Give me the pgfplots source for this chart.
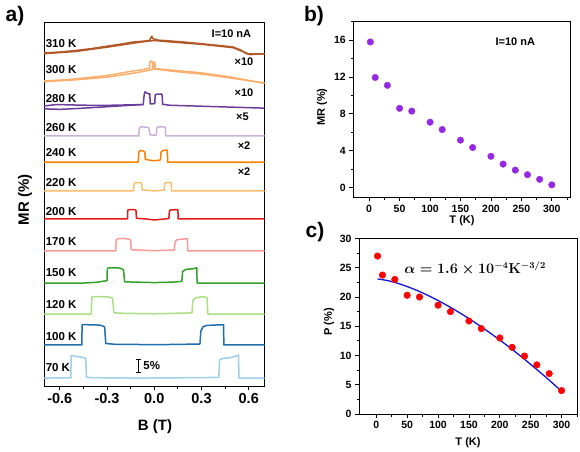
\documentclass[border=0pt]{standalone}
\usepackage{fontspec}
\setmainfont{Liberation Sans}
\usepackage{amsmath,bm}
\usepackage{pgfplots}
\pgfplotsset{compat=1.18}
\definecolor{c70}{RGB}{158,206,232}
\definecolor{c100}{RGB}{31,110,175}
\definecolor{c120}{RGB}{170,222,135}
\definecolor{c150}{RGB}{51,160,44}
\definecolor{c170}{RGB}{251,154,153}
\definecolor{c200}{RGB}{227,26,28}
\definecolor{c220}{RGB}{253,191,111}
\definecolor{c240}{RGB}{255,127,0}
\definecolor{c260}{RGB}{202,178,214}
\definecolor{c280}{RGB}{106,61,154}
\definecolor{c300}{RGB}{250,175,110}
\definecolor{c310}{RGB}{177,89,40}
\definecolor{mviolet}{RGB}{145,40,235}
\definecolor{fitblue}{RGB}{20,20,215}
\pgfplotsset{
  panel/.style={scale only axis, anchor=south west,
    axis line style={line width=0.9pt},
    every tick/.style={line width=0.8pt, black},
    tick align=outside, major tick length=4pt, minor tick length=2.5pt,
    xtick pos=left, ytick pos=left,
    /pgf/number format/assume math mode=true,
    ticklabel style={font=\fontsize{10.5}{12}\selectfont\bfseries},
  },
  curve/.style={line width=1.5pt, line join=round},
}
\begin{document}
\begin{tikzpicture}
\path[use as bounding box] (0pt,0pt) rectangle (580pt,451pt);
% ---------------- panel a
\begin{axis}[panel, at={(44pt,65pt)}, width=220.5pt, height=364pt,
  xmin=-0.7, xmax=0.7, ymin=0, ymax=151.7,
  ytick=\empty,
  xtick={-0.6,-0.3,0,0.3,0.6}, xticklabels={-0.6,-0.3,0.0,0.3,0.6},
  minor xtick={-0.45,-0.15,0.15,0.45},
  ticklabel style={font=\fontsize{14.5}{16}\selectfont\bfseries},
  clip=false]
% 70 K
\addplot[curve, c70] table[row sep=\\, x=B, y expr=\thisrow{m}+3.3]{
B m\\ -0.70 0\\ -0.60 0.1\\ -0.53 0.1\\ -0.527 9.3\\ -0.52 9.4\\ -0.50 9.1\\ -0.47 8.8\\ -0.45 8.5\\ -0.435 8.2\\ -0.43 0.4\\ -0.40 0.2\\ -0.30 0.1\\ -0.10 0.0\\ 0.10 0.1\\ 0.30 0.2\\ 0.41 0.3\\ 0.415 7.6\\ 0.43 8.1\\ 0.48 8.5\\ 0.52 9.2\\ 0.53 9.6\\ 0.535 9.6\\ 0.538 0.0\\ 0.60 0.0\\ 0.70 0.0\\
};
% 100 K
\addplot[curve, c100] table[row sep=\\, x=B, y expr=\thisrow{m}+17.1]{
B m\\ -0.70 0\\ -0.46 0\\ -0.458 8.3\\ -0.45 8.5\\ -0.40 8.4\\ -0.35 8.3\\ -0.33 8.0\\ -0.315 7.5\\ -0.308 0.6\\ -0.25 0.3\\ -0.10 0.2\\ 0.00 0.1\\ 0.20 0.3\\ 0.29 0.4\\ 0.296 5.8\\ 0.31 7.6\\ 0.33 8.1\\ 0.38 8.3\\ 0.44 8.4\\ 0.442 0\\ 0.70 0\\
};
% 120 K
\addplot[curve, c120] table[row sep=\\, x=B, y expr=\thisrow{m}+30]{
B m\\ -0.70 0\\ -0.40 0\\ -0.396 7.0\\ -0.39 7.3\\ -0.33 7.2\\ -0.29 7.1\\ -0.265 6.6\\ -0.256 0.5\\ -0.20 0.3\\ 0.00 0.1\\ 0.20 0.4\\ 0.24 0.5\\ 0.245 5.5\\ 0.26 6.7\\ 0.30 7.2\\ 0.32 7.1\\ 0.335 6.9\\ 0.34 0\\ 0.70 0\\
};
% 150 K
\addplot[curve, c150] table[row sep=\\, x=B, y expr=\thisrow{m}+42.9]{
B m\\ -0.70 0\\ -0.45 0\\ -0.37 0.3\\ -0.30 1.0\\ -0.298 6.0\\ -0.29 6.3\\ -0.23 6.3\\ -0.21 6.1\\ -0.195 5.4\\ -0.188 0.5\\ -0.12 0.4\\ 0.00 0.2\\ 0.12 0.4\\ 0.175 0.7\\ 0.18 4.8\\ 0.20 5.7\\ 0.25 6.0\\ 0.27 6.4\\ 0.272 0\\ 0.70 0\\
};
% 170 K
\addplot[curve, c170] table[row sep=\\, x=B, y expr=\thisrow{m}+56.3]{
B m\\ -0.70 0\\ -0.245 0\\ -0.242 4.6\\ -0.23 5.1\\ -0.20 5.2\\ -0.165 5.0\\ -0.15 4.5\\ -0.146 0.5\\ -0.08 0.3\\ 0.00 0.1\\ 0.10 0.3\\ 0.128 0.3\\ 0.132 3.8\\ 0.145 4.7\\ 0.19 5.0\\ 0.21 5.1\\ 0.213 0\\ 0.70 0\\
};
% 200 K
\addplot[curve, c200] table[row sep=\\, x=B, y expr=\thisrow{m}+69.6]{
B m\\ -0.70 0\\ -0.17 0\\ -0.168 3.7\\ -0.16 3.9\\ -0.125 3.9\\ -0.116 3.6\\ -0.113 0.3\\ -0.05 0.0\\ 0.00 -0.4\\ 0.05 -0.1\\ 0.093 0.2\\ 0.096 3.3\\ 0.105 3.8\\ 0.145 3.9\\ 0.15 3.9\\ 0.152 0\\ 0.70 0\\
};
% 220 K
\addplot[curve, c220] table[row sep=\\, x=B, y expr=\thisrow{m}+81.3]{
B m\\ -0.70 0\\ -0.132 0\\ -0.128 3.0\\ -0.12 3.5\\ -0.088 3.4\\ -0.08 3.0\\ -0.077 0.4\\ -0.03 0.2\\ 0.00 0.0\\ 0.04 0.2\\ 0.062 0.3\\ 0.066 3.2\\ 0.075 3.5\\ 0.102 3.5\\ 0.108 3.3\\ 0.11 0\\ 0.70 0\\
};
% 240 K
\addplot[curve, c240] table[row sep=\\, x=B, y expr=\thisrow{m}+93.3]{
B m\\ -0.70 0\\ -0.102 0\\ -0.098 4.2\\ -0.088 4.9\\ -0.07 4.6\\ -0.06 4.3\\ -0.057 1.2\\ -0.03 0.8\\ 0.00 0.6\\ 0.03 0.8\\ 0.04 1.0\\ 0.043 4.2\\ 0.055 4.9\\ 0.078 5.0\\ 0.083 4.8\\ 0.085 0\\ 0.70 0\\
};
% 260 K
\addplot[curve, c260] table[row sep=\\, x=B, y expr=\thisrow{m}+104.2]{
B m\\ -0.70 0\\ -0.098 0\\ -0.095 3.2\\ -0.085 3.8\\ -0.05 3.7\\ -0.035 3.5\\ -0.027 0.5\\ 0.00 0.3\\ 0.013 0.4\\ 0.016 3.3\\ 0.025 3.8\\ 0.06 3.8\\ 0.07 3.6\\ 0.074 0\\ 0.70 0\\
};
% 280 K
\addplot[curve, c280] table[row sep=\\, x=B, y expr=\thisrow{m}+115.8]{
B m\\ -0.70 -0.3\\ -0.60 -0.5\\ -0.50 -0.2\\ -0.30 0.6\\ -0.15 1.2\\ -0.07 1.5\\ -0.064 5.6\\ -0.058 6.8\\ -0.045 6.2\\ -0.035 5.9\\ -0.028 6.0\\ -0.026 1.8\\ -0.01 1.8\\ 0.003 1.9\\ 0.006 5.4\\ 0.015 5.8\\ 0.045 5.9\\ 0.05 5.6\\ 0.053 1.6\\ 0.10 1.2\\ 0.30 0.8\\ 0.50 0.4\\ 0.70 0\\
};
\addplot[curve, c280] table[row sep=\\, x=B, y expr=\thisrow{m}+115.8]{
B m\\ -0.70 0.9\\ -0.62 1.5\\ -0.50 1.3\\ -0.35 1.1\\ -0.20 1.3\\ -0.07 1.5\\
};
% 300 K
\addplot[curve, c300] table[row sep=\\, x=B, y expr=\thisrow{m}+127.1]{
B m\\ -0.70 0\\ -0.55 0.6\\ -0.41 1.5\\ -0.30 2.3\\ -0.16 3.9\\ -0.08 4.7\\ -0.03 5.3\\ -0.028 8.0\\ -0.02 8.4\\ -0.013 8.2\\ -0.011 5.3\\ -0.003 5.6\\ 0.0 7.9\\ 0.004 7.8\\ 0.006 5.2\\ 0.10 4.6\\ 0.20 4.0\\ 0.29 3.5\\ 0.40 2.5\\ 0.50 1.5\\ 0.60 0.2\\ 0.70 -1.0\\
};
\addplot[curve, c300] table[row sep=\\, x=B, y expr=\thisrow{m}+127.1]{
B m\\ -0.70 -0.3\\ -0.50 0.5\\ -0.30 1.6\\ -0.10 3.6\\ -0.04 4.4\\ 0.00 5.0\\ 0.10 4.2\\ 0.20 3.5\\ 0.30 2.9\\ 0.50 1.1\\ 0.70 -0.8\\
};
% 310 K
\addplot[curve, c310] table[row sep=\\, x=B, y expr=\thisrow{m}+138.8]{
B m\\ -0.70 0.0\\ -0.60 0.4\\ -0.50 1.0\\ -0.40 1.8\\ -0.30 2.8\\ -0.20 3.8\\ -0.14 4.5\\ -0.07 4.9\\ -0.03 5.2\\ -0.02 6.6\\ -0.015 7.0\\ -0.01 6.0\\ 0.00 5.8\\ 0.03 5.3\\ 0.10 5.0\\ 0.20 4.5\\ 0.29 3.9\\ 0.40 3.2\\ 0.50 2.5\\ 0.55 1.2\\ 0.58 -0.2\\ 0.61 -0.7\\ 0.65 -0.5\\ 0.70 -0.3\\
};
\addplot[curve, c310] table[row sep=\\, x=B, y expr=\thisrow{m}+138.8]{
B m\\ -0.70 -0.3\\ -0.50 0.6\\ -0.30 2.4\\ -0.10 4.4\\ 0.00 5.2\\ 0.10 4.6\\ 0.30 3.6\\ 0.50 2.2\\ 0.60 -0.4\\ 0.70 -0.4\\
};
% labels
\begin{scope}[every node/.style={font=\fontsize{11.5}{13}\selectfont\bfseries, anchor=west, inner sep=0pt}]
\node at (axis cs:-0.69,142.9) {310 K};
\node at (axis cs:-0.69,131.7) {300 K};
\node at (axis cs:-0.69,119.6) {280 K};
\node at (axis cs:-0.69,107.9) {260 K};
\node at (axis cs:-0.69,97.1) {240 K};
\node at (axis cs:-0.69,85.0) {220 K};
\node at (axis cs:-0.69,72.9) {200 K};
\node at (axis cs:-0.69,60.0) {170 K};
\node at (axis cs:-0.69,47.1) {150 K};
\node at (axis cs:-0.69,33.8) {120 K};
\node at (axis cs:-0.69,20.8) {100 K};
\node at (axis cs:-0.69,7.5) {70 K};
\node at (axis cs:-0.07,8.5) {5\%};
\end{scope}
\begin{scope}[every node/.style={font=\fontsize{11}{13}\selectfont\bfseries, inner sep=0pt}]
\node at (axis cs:0.49,146.9) {I=10 nA};
\node at (axis cs:0.57,135.1) {×10};
\node at (axis cs:0.57,122.2) {×10};
\node at (axis cs:0.56,112.0) {×5};
\node at (axis cs:0.57,100.1) {×2};
\node at (axis cs:0.57,89.3) {×2};
\end{scope}
\draw[line width=1.3pt] (axis cs:-0.1,5.8) -- (axis cs:-0.1,11.2);
\draw[line width=1pt] (axis cs:-0.115,5.8) -- (axis cs:-0.085,5.8);
\draw[line width=1pt] (axis cs:-0.115,11.2) -- (axis cs:-0.085,11.2);
\end{axis}
% ---------------- panel b
\begin{axis}[panel, at={(353.3pt,253.7pt)}, width=217.4pt, height=175.6pt,
  xmin=-26, xmax=331, ymin=-1.05, ymax=18,
  xtick={0,50,...,300}, minor xtick={25,75,...,325},
  ytick={0,4,...,16}, minor ytick={2,6,...,18}]
\addplot[only marks, mark=*, mark size=3.3pt, mark options={fill=mviolet, draw=mviolet!80!orange}]
coordinates {(2,15.8)(10,11.95)(30,11.1)(50,8.6)(70,8.3)(100,7.1)(120,6.3)(150,5.15)(170,4.35)(200,3.4)(220,2.55)(240,1.9)(260,1.4)(280,0.9)(300,0.3)};
\node[font=\fontsize{11}{13}\selectfont\bfseries] at (axis cs:240,15.8) {I=10 nA};
\end{axis}
% ---------------- panel c
\begin{axis}[panel, at={(359pt,37pt)}, width=218pt, height=175.5pt,
  xmin=-28, xmax=325, ymin=0, ymax=30,
  xtick={0,50,...,300}, minor xtick={25,75,...,300},
  ytick={0,5,...,30}, minor ytick={2.5,7.5,...,27.5}]
\addplot[fitblue, line width=1.3pt, smooth] coordinates {(2,23.09)(20,22.77)(40,22.16)(60,21.38)(80,20.46)(100,19.40)(120,18.24)(140,16.98)(160,15.62)(180,14.17)(200,12.65)(220,11.04)(240,9.36)(260,7.60)(280,5.78)(300,3.89)};
\addplot[only marks, mark=*, mark size=3.3pt, mark options={fill=red, draw=red}]
coordinates {(2,27.0)(10,23.75)(30,23.0)(50,20.3)(70,20.0)(100,18.6)(120,17.5)(150,15.9)(170,14.6)(200,13.0)(220,11.4)(240,9.9)(260,8.4)(280,6.9)(300,4.0)};
\node[font=\fontsize{13.5}{15}\selectfont\boldmath] at (axis cs:160,24.9) {$\alpha = 1.6\times 10^{-4}\mathbf{K}^{-3/2}$};
\end{axis}
% ---------------- axis titles and panel letters
\begin{scope}[every node/.style={inner sep=0pt}]
\node[font=\fontsize{15}{17}\selectfont\bfseries] at (155pt,24pt) {B (T)};
\node[font=\fontsize{15}{17}\selectfont\bfseries, rotate=90] at (25pt,251pt) {MR (\%)};
\node[font=\fontsize{11}{13}\selectfont\bfseries] at (462pt,230pt) {T (K)};
\node[font=\fontsize{11}{13}\selectfont\bfseries, rotate=90] at (322pt,344pt) {MR (\%)};
\node[font=\fontsize{11}{13}\selectfont\bfseries] at (468pt,8pt) {T (K)};
\node[font=\fontsize{11}{13}\selectfont\bfseries, rotate=90] at (329pt,129pt) {P (\%)};
\node[font=\fontsize{21}{24}\selectfont\bfseries] at (15pt,435pt) {a)};
\node[font=\fontsize{21}{24}\selectfont\bfseries] at (314pt,435pt) {b)};
\node[font=\fontsize{21}{24}\selectfont\bfseries] at (315pt,219pt) {c)};
\end{scope}
\end{tikzpicture}
\end{document}
